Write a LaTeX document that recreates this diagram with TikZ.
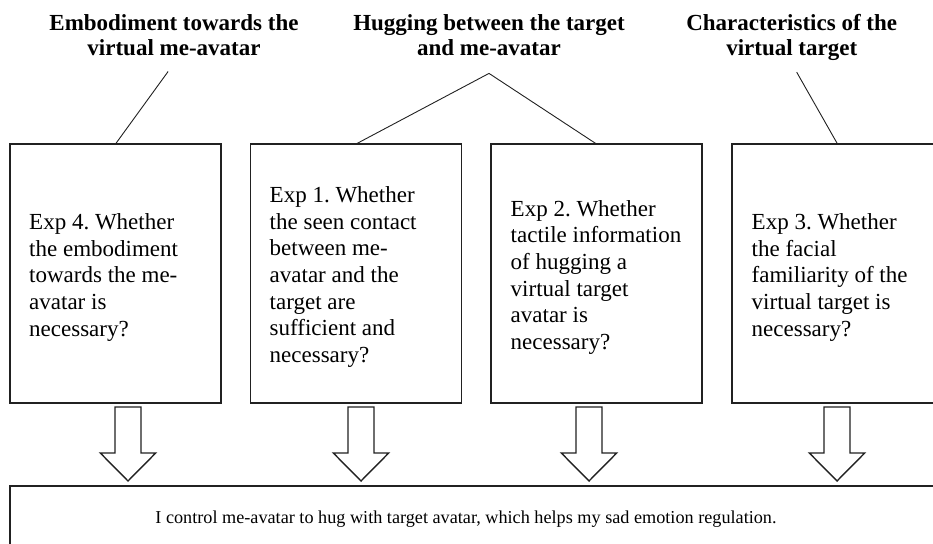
\documentclass[tikz,border=0pt]{standalone}
\usepackage{fontspec}
\setmainfont{Liberation Serif}
\usetikzlibrary{calc}
\definecolor{ink}{gray}{0.13}
\frenchspacing
\begin{document}
\begin{tikzpicture}[x=1pt,y=-1pt,
  expbox/.style={draw=ink, line width=1.8pt, minimum width=211pt, minimum height=259pt, inner sep=0pt, outer sep=0pt},
  exptext/.style={anchor=north west, inner sep=0pt, align=left, font=\fontsize{23}{26.7}\selectfont},
  heading/.style={anchor=north, inner sep=0pt, align=center, font=\bfseries\fontsize{23}{25}\selectfont},
  link/.style={draw=ink, line width=0.9pt},
  blockarrow/.style={draw=ink, line width=1.4pt, fill=white, line join=miter},
  goalbox/.style={draw=ink, line width=1.8pt, anchor=north west, minimum width=940pt, minimum height=100pt, inner sep=0pt, outer sep=0pt},
]
\useasboundingbox (0,0) rectangle (933,543);
\begin{scope}
\clip (0,0) rectangle (933,543);

% headings
\node[heading] (h1) at (174,13) {\strut Embodiment towards the\\virtual me-avatar\strut};
\node[heading] (h2) at (489,13) {\strut Hugging between the target\\and me-avatar\strut};
\node[heading] (h3) at (791.7,13) {\strut Characteristics of the\\virtual target\strut};

% experiment boxes
\node[expbox] (e4) at (115.5,273.5) {};
\node[expbox] (e1) at (356,273.5) {};
\node[expbox] (e2) at (596.5,273.5) {};
\node[expbox] (e3) at (837.5,273.5) {};

\node[exptext] (t4) at ($(e4.north west)+(19,66.6)$) {\strut Exp 4. Whether\\the embodiment\\towards the me-\\avatar is\\necessary?};
\node[exptext] (t1) at ($(e1.north west)+(19,39.6)$) {\strut Exp 1. Whether\\the seen contact\\between me-\\avatar and the\\target are\\sufficient and\\necessary?};
\node[exptext] (t2) at ($(e2.north west)+(19.5,53.3)$) {\strut Exp 2. Whether\\tactile information\\of hugging a\\virtual target\\avatar is\\necessary?};
\node[exptext] (t3) at ($(e3.north west)+(19.5,66.6)$) {\strut Exp 3. Whether\\the facial\\familiarity of the\\virtual target is\\necessary?};

% heading connectors
\draw[link, shorten <=10pt] (h1.south) -- (e4.north);
\draw[link] (e1.north) -- ($(h2.south)+(0,10)$) -- (e2.north);
\draw[link, shorten <=10pt] (h3.south) -- (e3.north);

% goal box
\node[goalbox] (goal) at (10,486) {};
\node[anchor=base, inner sep=0pt, font=\fontsize{18.2}{20}\selectfont] (goaltext) at (466,523.5) {I control me-avatar to hug with target avatar, which helps my sad emotion regulation.};

% block arrows
\coordinate (a4) at ($(e4.south)+(12.5,4)$);
\coordinate (a1) at ($(e1.south)+(5,4)$);
\coordinate (a2) at ($(e2.south)+(-7.5,4)$);
\coordinate (a3) at ($(e3.south)+(-0.5,4)$);
\foreach \a in {a4,a1,a2,a3}{
  \draw[blockarrow] (\a) +(-13,0) -- +(13,0) -- +(13,46) -- +(27.7,46) -- +(0,74) -- +(-27.7,46) -- +(-13,46) -- cycle;
}
\end{scope}
\end{tikzpicture}
\end{document}
